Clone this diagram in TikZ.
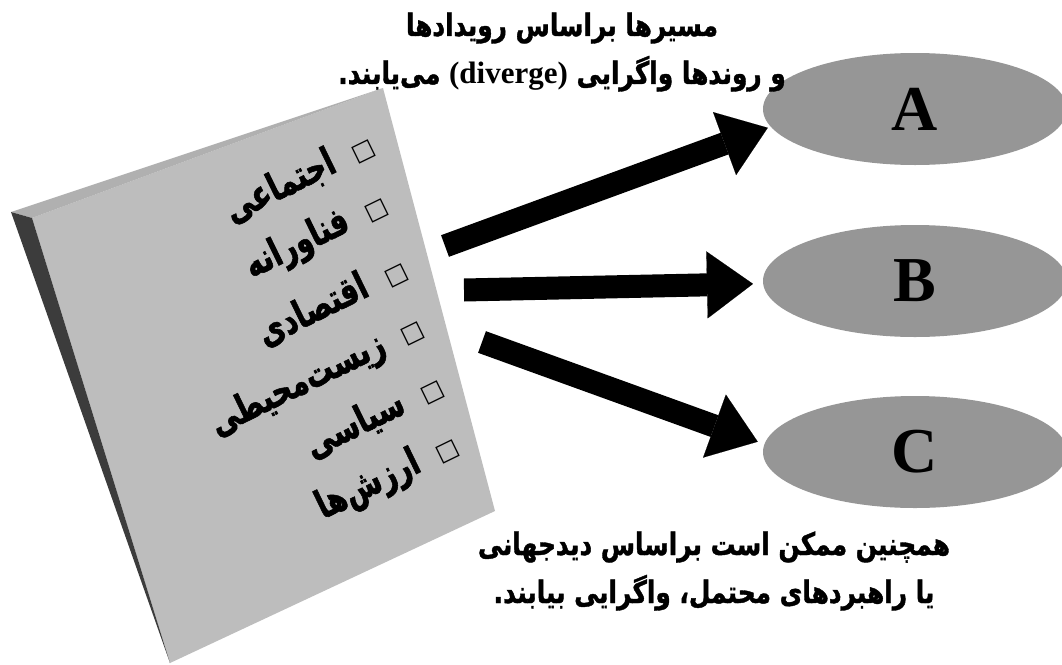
\documentclass[tikz,border=0pt]{standalone}
\usepackage{fontspec}
\usepackage{xcolor}
\usepackage{tikz}
\setmainfont{Liberation Serif}
\newfontfamily\arabicfont[Script=Arabic, FakeStretch=0.8, BoldFeatures={FakeBold=1.2}]{DejaVu Sans}
\newfontfamily\itemfont[Script=Arabic, FakeStretch=0.72, BoldFeatures={FakeBold=1.4}]{DejaVu Sans}
\newfontfamily\boxfont{DejaVu Sans}
\TeXXeTstate=1
\definecolor{boardface}{RGB}{189,189,189}
\definecolor{boardtop}{RGB}{176,176,176}
\definecolor{boardside}{RGB}{60,60,60}
\definecolor{lensgray}{RGB}{150,150,150}
\usetikzlibrary{arrows.meta,shapes.geometric}

\newcommand{\chkbox}{{\boxfont\mdseries\fontsize{24}{24}\selectfont □}\hspace{20pt}}

\begin{document}
\begin{tikzpicture}[x=1pt, y=-1pt,
    lens/.style={ellipse, fill=lensgray, minimum width=304pt, minimum height=112pt, inner sep=0pt, font=\fontsize{64}{64}\selectfont\bfseries},
    item/.style={anchor=east, rotate=26, inner sep=0pt, font=\itemfont\bfseries\fontsize{39}{39}\selectfont},
    caption/.style={align=center, inner sep=0pt, font=\arabicfont\bfseries\fontsize{31}{48}\selectfont},
    flow/.style={line width=23pt, -{Triangle[width=67pt, length=46pt, line width=0.1pt]}}
]
\useasboundingbox (0,0) rectangle (1062,664);
\clip (0,0) rectangle (1062,664);

% Board
\fill[boardface] (32,218) -- (383,88) -- (495,511) -- (170,663) -- cycle;
\fill[boardtop] (11,212) -- (383,88) -- (32,218) -- cycle;
\fill[boardside] (11,212) -- (32,218) -- (170,663) -- cycle;

% Items
\node[item] (social) at (372,142) {\beginR\chkbox اجتماعی\endR};
\node[item] (tech) at (386,202) {\beginR\chkbox فناورانه\endR};
\node[item] (econ) at (404,265) {\beginR\chkbox اقتصادی\endR};
\node[item] (env) at (422,325) {\beginR\chkbox زیست^^^^200cمحیطی\endR};
\node[item] (polit) at (441,383) {\beginR\chkbox سیاسی\endR};
\node[item] (values) at (457,443) {\beginR\chkbox ارزش^^^^200cها\endR};

% Futures
\node[lens] (A) at (915,109) {A};
\node[lens] (B) at (915,281) {B};
\node[lens] (C) at (915,452) {C};

% Arrows
\coordinate (tailA) at (445,246);
\coordinate (tailB) at (464,290);
\coordinate (tailC) at (482,342);
\draw[flow, shorten >=3pt] (tailA) -- (A.187);
\draw[flow, shorten >=10pt] (tailB) -- (B.181);
\draw[flow, shorten >=7pt] (tailC) -- (C.177);

% Captions
\node[caption] (events) at (562,52) {\beginR مسیرها براساس رویدادها\endR\\\beginR و روندها واگرایی {\rmfamily\bfseries\beginL(diverge)\endL} می^^^^200cیابند.\endR};
\node[caption] (worldview) at (714,571) {\beginR همچنین ممکن است براساس دیدجهانی\endR\\\beginR یا راهبردهای محتمل، واگرایی بیابند.\endR};

\end{tikzpicture}
\end{document}
